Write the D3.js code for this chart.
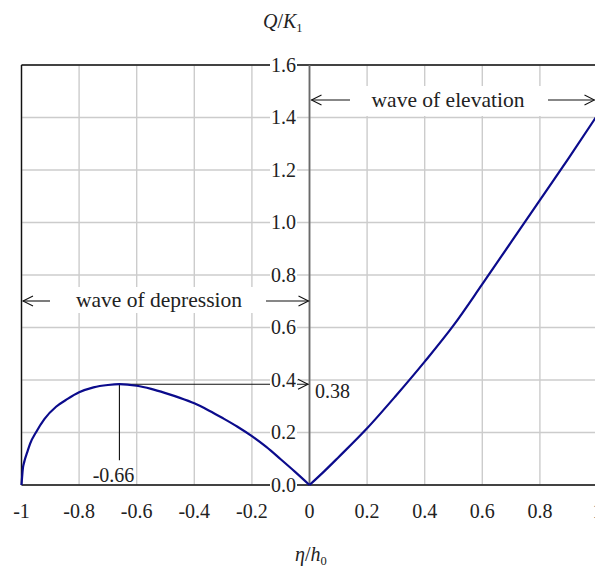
<!DOCTYPE html>
<html><head><meta charset="utf-8">
<script src="https://cdn.jsdelivr.net/npm/d3@7"></script>
<style>body{margin:0;background:#fff}svg{display:block}text{font-family:"Liberation Serif","Times New Roman",serif;fill:#222}</style>
</head><body>
<svg id="c" width="595" height="572"></svg>
<script>
const xTicks = [-1,-0.8,-0.6,-0.4,-0.2,0,0.2,0.4,0.6,0.8,1];
const xTickLabels = ["-1","-0.8","-0.6","-0.4","-0.2","0","0.2","0.4","0.6","0.8","1"];
const yTicks = [0,0.2,0.4,0.6,0.8,1.0,1.2,1.4,1.6];
const yTickLabels = ["0.0","0.2","0.4","0.6","0.8","1.0","1.2","1.4","1.6"];
// wave of depression branch
const depEta = [-1,-0.995,-0.99,-0.98,-0.97,-0.95,-0.92,-0.88,-0.84,-0.8,-0.75,-0.7,-0.66,-0.6,-0.55,-0.5,-0.45,-0.4,-0.35,-0.3,-0.25,-0.2,-0.15,-0.1,-0.05,0];
const depQ   = [0,0.065,0.09,0.125,0.158,0.2,0.252,0.298,0.328,0.353,0.372,0.381,0.384,0.378,0.366,0.35,0.332,0.311,0.284,0.254,0.222,0.186,0.145,0.098,0.05,0];
// wave of elevation branch
const eleEta = [0,0.05,0.1,0.2,0.3,0.4,0.5,0.6,0.7,0.8,0.9,1.0];
const eleQ   = [0,0.051,0.105,0.216,0.34,0.47,0.608,0.765,0.925,1.085,1.245,1.41];
const peakEta = -0.66, peakQ = 0.384;
const peakEtaLabel = "-0.66", peakQLabel = "0.38";

const svg = d3.select("#c");
const x = d3.scaleLinear().domain([-1,1]).range([21.5,597.5]);
const y = d3.scaleLinear().domain([0,1.6]).range([485,65]);

// grid
const g = svg.append("g");
g.selectAll("line.vx").data(xTicks).join("line")
 .attr("x1",d=>x(d)).attr("x2",d=>x(d)).attr("y1",y(0)).attr("y2",y(1.6))
 .attr("stroke","#cccccc").attr("stroke-width",1.4);
g.selectAll("line.hy").data(yTicks).join("line")
 .attr("x1",x(-1)).attr("x2",x(1)).attr("y1",d=>y(d)).attr("y2",d=>y(d))
 .attr("stroke","#cccccc").attr("stroke-width",1.4);

// annotation band backgrounds
svg.append("rect").attr("x",x(-1)+1.5).attr("y",287).attr("width",x(0)-x(-1)-3).attr("height",26).attr("fill","#fff");
svg.append("rect").attr("x",x(0)+1.5).attr("y",86).attr("width",x(1)-x(0)).attr("height",30).attr("fill","#fff");

// borders
svg.append("line").attr("x1",x(-1)).attr("x2",x(1)).attr("y1",y(1.6)).attr("y2",y(1.6)).attr("stroke","#111").attr("stroke-width",1.4);
svg.append("line").attr("x1",x(-1)).attr("x2",x(-1)).attr("y1",y(0)).attr("y2",y(1.6)).attr("stroke","#111").attr("stroke-width",1.4);
svg.append("line").attr("x1",x(1)).attr("x2",x(1)).attr("y1",y(0)).attr("y2",y(1.6)).attr("stroke","#111").attr("stroke-width",1.4);
svg.append("line").attr("x1",x(-1)).attr("x2",x(1)).attr("y1",y(0)).attr("y2",y(0)).attr("stroke","#111").attr("stroke-width",1.6);
// vertical axis at 0
svg.append("line").attr("x1",x(0)).attr("x2",x(0)).attr("y1",y(0)).attr("y2",y(1.6)).attr("stroke","#6a6a6a").attr("stroke-width",1.8);

// peak annotation lines
const px = x(peakEta), py = y(peakQ);
svg.append("line").attr("x1",px).attr("x2",x(0)-1).attr("y1",py).attr("y2",py).attr("stroke","#111").attr("stroke-width",1.1);
svg.append("line").attr("x1",px).attr("x2",px).attr("y1",py).attr("y2",py+76).attr("stroke","#111").attr("stroke-width",1.1);

// y tick labels with white background
const yl = svg.append("g");
yTicks.forEach((t,i)=>{
  const tx = yl.append("text").attr("x",296).attr("y",y(t)).attr("dy","0.34em")
    .attr("text-anchor","end").attr("font-size",20).text(yTickLabels[i]);
  const bb = tx.node().getBBox();
  yl.insert("rect","text").attr("x",bb.x-1).attr("y",y(t)-8).attr("width",bb.width+2).attr("height",16).attr("fill","#fff");
});

// chevron helper
function chevron(xt, yt, dir){
  const L = 10, H = 5;
  svg.append("path").attr("d",`M${xt-dir*L},${yt-H}L${xt},${yt}L${xt-dir*L},${yt+H}`)
    .attr("fill","none").attr("stroke","#111").attr("stroke-width",1.1);
}
chevron(x(0)-1.5, py, 1);

// curve
const line = d3.line().x(d=>x(d[0])).y(d=>y(d[1])).curve(d3.curveMonotoneX);
svg.append("path").datum(depEta.map((e,i)=>[e,depQ[i]])).attr("d",line)
 .attr("fill","none").attr("stroke","#0b0b8c").attr("stroke-width",2.2).attr("stroke-linejoin","round");
svg.append("path").datum(eleEta.map((e,i)=>[e,eleQ[i]])).attr("d",line)
 .attr("fill","none").attr("stroke","#0b0b8c").attr("stroke-width",2.2).attr("stroke-linejoin","round");

// x tick labels
svg.append("g").selectAll("text").data(xTicks).join("text")
 .attr("x",d=>x(d)).attr("y",518).attr("text-anchor","middle").attr("font-size",20)
 .text((d,i)=>xTickLabels[i]);

// band texts and arrows
function hArrow(x1,x2,yy,dir){
  svg.append("line").attr("x1",x1).attr("x2",x2).attr("y1",yy).attr("y2",yy).attr("stroke","#111").attr("stroke-width",1.1);
  chevron(dir>0?x2:x1, yy, dir);
}
svg.append("text").attr("x",159).attr("y",307).attr("text-anchor","middle").attr("font-size",21.5).text("wave of depression");
hArrow(23,50,301,-1); hArrow(266,308.5,301,1);
svg.append("text").attr("x",448).attr("y",106.5).attr("text-anchor","middle").attr("font-size",21.5).text("wave of elevation");
hArrow(311.5,350,100,-1); hArrow(548,594.5,100,1);

// peak labels
svg.append("text").attr("x",113.5).attr("y",482).attr("text-anchor","middle").attr("font-size",20).text(peakEtaLabel);
svg.append("text").attr("x",315).attr("y",398).attr("font-size",20).text(peakQLabel);

// axis titles
const yt = svg.append("text").attr("x",263).attr("y",28).attr("font-size",20);
yt.append("tspan").attr("font-style","italic").text("Q");
yt.append("tspan").text("/");
yt.append("tspan").attr("font-style","italic").text("K");
yt.append("tspan").attr("font-size",12.5).attr("dy",4).text("1");
const xt = svg.append("text").attr("x",295).attr("y",561).attr("font-size",20);
xt.append("tspan").attr("font-style","italic").text("η");
xt.append("tspan").text("/");
xt.append("tspan").attr("font-style","italic").text("h");
xt.append("tspan").attr("font-size",12.5).attr("dy",4).text("0");
</script>
</body></html>
